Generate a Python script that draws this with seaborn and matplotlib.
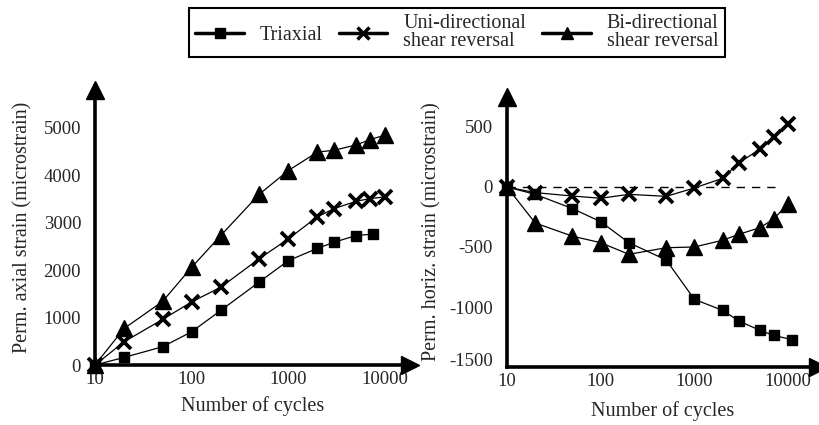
import numpy as np
import pandas as pd
import matplotlib
matplotlib.use("Agg")
import matplotlib.pyplot as plt
import matplotlib.transforms as mtransforms
import seaborn as sns
from matplotlib.lines import Line2D

# ---- data ----
cycles = [10, 20, 50, 100, 200, 500, 1000, 2000, 3000, 5000, 7000, 10000]
cycles_tri_axial = [10, 20, 50, 100, 200, 500, 1000, 2000, 3000, 5000, 7500]
axial_triaxial = [0, 160, 385, 700, 1150, 1750, 2200, 2460, 2590, 2730, 2760]
axial_uni = [0, 490, 960, 1330, 1640, 2240, 2660, 3125, 3300, 3450, 3510, 3545]
axial_bi = [0, 770, 1340, 2060, 2730, 3600, 4100, 4490, 4530, 4640, 4750, 4850]

cycles_tri_horiz = [10, 20, 50, 100, 200, 500, 1000, 2000, 3000, 5000, 7000, 11000]
horiz_triaxial = [0, -61, -180, -289, -464, -608, -936, -1028, -1117, -1194, -1236, -1272]
horiz_uni = [0, -47, -75, -94, -61, -78, -8, 72, 203, 314, 417, 522]
horiz_bi = [0, -300, -410, -464, -561, -506, -500, -444, -394, -339, -269, -139]

ref_line_x = [10, 8500]
ref_line_y = [0, 0]

labels = ["Triaxial", "Uni-directional\nshear reversal", "Bi-directional\nshear reversal"]
xticks = [10, 100, 1000, 10000]
xticklabels = ["10", "100", "1000", "10000"]
yticks_left = [0, 1000, 2000, 3000, 4000, 5000]
yticks_right = [-1500, -1000, -500, 0, 500]

sns.set_theme(style="white")
plt.rcParams['font.family'] = ['Liberation Serif', 'DejaVu Serif']
plt.rcParams['axes.unicode_minus'] = False
FS = 13.5
LFS = 14.5

fig = plt.figure(figsize=(8.19, 4.25), dpi=100)
axL = fig.add_axes([95/819, (425-365)/425, (410-95)/819, (365-90)/425])
axR = fig.add_axes([507/819, (425-367)/425, (818-507)/819, (367-97)/425])

mk = dict(color="black", linewidth=0.9, markeredgecolor="black", markerfacecolor="black")

def series(ax, x, y, marker, ms, mew=1.0):
    df = pd.DataFrame({"x": x, "y": y})
    sns.lineplot(data=df, x="x", y="y", ax=ax, marker=marker, markersize=ms,
                 markeredgewidth=mew, clip_on=False, zorder=3, **mk)

series(axL, cycles_tri_axial, axial_triaxial, "s", 7)
series(axL, cycles, axial_uni, "x", 10.5, 2.7)
series(axL, cycles, axial_bi, "^", 11)

series(axR, cycles_tri_horiz, horiz_triaxial, "s", 7)
series(axR, cycles, horiz_uni, "x", 10.5, 2.7)
series(axR, cycles, horiz_bi, "^", 11)
axR.plot(ref_line_x, ref_line_y, color="black", linestyle=(0, (6, 5)), linewidth=1.0, zorder=2)

for ax in (axL, axR):
    ax.set_xscale("log")
    ax.set_xlim(10, 10**4.26)
    ax.set_xticks(xticks)
    ax.set_xticklabels(xticklabels, fontsize=FS)
    ax.minorticks_off()
    ax.tick_params(axis="both", length=0, labelsize=FS)
    ax.tick_params(axis="y", pad=10)
    ax.tick_params(axis="x", pad=4)
    for s in ("top", "right"):
        ax.spines[s].set_visible(False)
    for s in ("left", "bottom"):
        ax.spines[s].set_color("black")
        ax.spines[s].set_linewidth(2.6)
    ax.grid(False)
    # arrowheads
    ax.plot(0, 1, marker="^", markersize=13, color="black", transform=ax.transAxes, clip_on=False)
    ax.plot(1, 0, marker=">", markersize=13, color="black", transform=ax.transAxes, clip_on=False)

axL.set_ylim(0, 5800)
axL.set_yticks(yticks_left)
axR.set_xlim(10, 10**4.32)
axR.set_ylim(-1500, 750)
axR.set_yticks(yticks_right)

# lift the bottom label of the right panel a little, as in the source
fig.canvas.draw()
lbl = axR.get_yticklabels()[0]
lbl.set_transform(lbl.get_transform() + mtransforms.ScaledTranslation(0, 7/100, fig.dpi_scale_trans))

axL.set_xlabel("Number of cycles", fontsize=LFS, labelpad=6)
axL.set_ylabel("Perm. axial strain (microstrain)", fontsize=LFS, labelpad=8)
axR.set_xlabel("Number of cycles", fontsize=LFS, labelpad=8)
axR.set_ylabel("Perm. horiz. strain (microstrain)", fontsize=LFS, labelpad=6)

handles = [
    Line2D([], [], color="black", linewidth=2.5, marker="s", markersize=7),
    Line2D([], [], color="black", linewidth=2.5, marker="x", markersize=8, markeredgewidth=2.5),
    Line2D([], [], color="black", linewidth=2.5, marker="^", markersize=8),
]
leg = fig.legend(handles, labels, loc="upper center", bbox_to_anchor=(457/819, 1 - 8/425),
                 ncol=3, fontsize=LFS, frameon=True, fancybox=False, framealpha=1,
                 edgecolor="black", handlelength=2.4, columnspacing=0.8, handletextpad=0.8,
                 borderpad=0.3, labelspacing=0.1, borderaxespad=0)
leg.get_frame().set_linewidth(1.5)
for t in leg.get_texts():
    t.set_linespacing(0.95)
    t.set_multialignment("left")

fig.savefig("out.png", dpi=100)
